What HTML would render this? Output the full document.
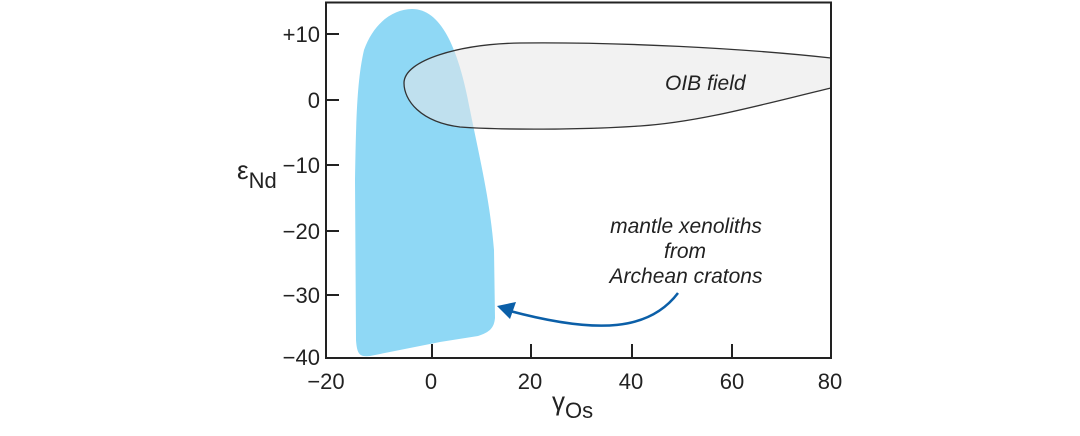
<!DOCTYPE html>
<html><head><style>body{margin:0;background:#fff}</style></head><body>
<svg width="1080" height="431" xmlns="http://www.w3.org/2000/svg" font-family="Liberation Sans, sans-serif">
<rect width="1080" height="431" fill="#fff"/>
<path d="M412,9 C440,9 458,45 470,110 C480,160 490,200 494,250 L495,318 C494,328 490,332 478,336 L440,342 L370,356 C360,357 357,355 356,340 L355,180 C356,120 357,80 364,50 C374,22 394,9 412,9 Z" fill="#8fd8f5"/>
<path d="M404,83 C404,60 460,44 520,43 C620,42 740,48 831,58 L831,88 C760,105 700,122 640,126 C580,130 500,130 460,127 C420,122 404,100 404,83 Z" fill="#e8e8e8" fill-opacity="0.55" stroke="#333" stroke-width="1.3"/>
<rect x="326" y="2.5" width="505" height="355.5" fill="none" stroke="#222" stroke-width="2"/>
<g stroke="#222" stroke-width="2">
<line x1="326" y1="34" x2="339" y2="34"/><line x1="326" y1="100" x2="339" y2="100"/><line x1="326" y1="165" x2="339" y2="165"/><line x1="326" y1="231" x2="339" y2="231"/><line x1="326" y1="295" x2="339" y2="295"/>
<line x1="432" y1="358" x2="432" y2="344"/><line x1="531" y1="358" x2="531" y2="344"/><line x1="632" y1="358" x2="632" y2="344"/><line x1="732" y1="358" x2="732" y2="344"/>
</g>
<g font-size="22" fill="#222" text-anchor="end">
<text x="320" y="42">+10</text><text x="320" y="108">0</text><text x="320" y="173">−10</text><text x="320" y="239">−20</text><text x="320" y="303">−30</text><text x="320" y="365">−40</text>
</g>
<g font-size="22" fill="#222" text-anchor="middle">
<text x="326" y="389">−20</text><text x="431" y="389">0</text><text x="530" y="389">20</text><text x="631" y="389">40</text><text x="732" y="389">60</text><text x="830" y="389">80</text>
</g>
<text x="237" y="179" font-size="26" fill="#222">ε<tspan font-size="22" dy="9">Nd</tspan></text>
<text x="552" y="410" font-size="26" fill="#222">γ<tspan font-size="22" dy="8">Os</tspan></text>
<text x="665" y="90" font-size="21" font-style="italic" fill="#222">OIB field</text>
<g font-size="21" font-style="italic" fill="#222" text-anchor="middle">
<text x="686" y="233">mantle xenoliths</text><text x="685" y="258">from</text><text x="686" y="283">Archean cratons</text>
</g>
<path d="M678,293 C650,330 600,335 510,311" fill="none" stroke="#0b5fa8" stroke-width="2.5"/>
<path d="M497,306 L516,302 L510,319 Z" fill="#0b5fa8"/>
</svg>
</body></html>
